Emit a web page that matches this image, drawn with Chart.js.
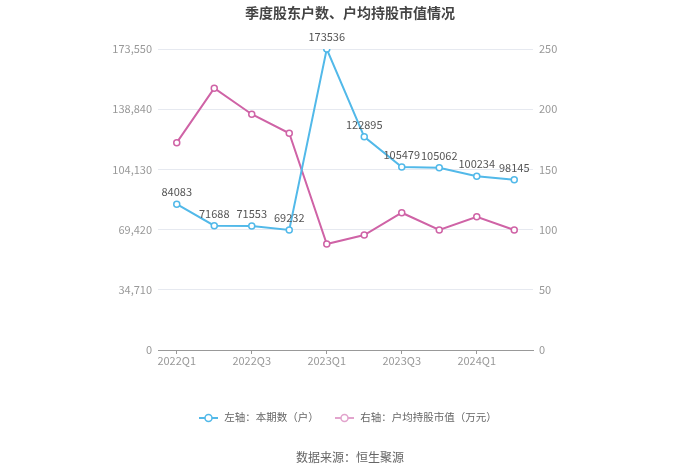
<!DOCTYPE html>
<html>
<head>
<meta charset="utf-8">
<script src="https://cdn.jsdelivr.net/npm/chart.js@4/dist/chart.umd.min.js"></script>
<style>
  body { margin: 0; background: #fff; font-family: "Noto Sans CJK SC", sans-serif; }
  #wrap { position: relative; width: 700px; height: 474px; }
  #title { position: absolute; top: 2px; left: 0; width: 700px; text-align: center;
    font-size: 14px; font-weight: bold; color: #444; }
  #legend { position: absolute; top: 409px; left: 0; width: 696px; text-align: center;
    font-size: 10.5px; color: #666; }
  #legend span.item { margin: 0 7px; }
  #legend svg { vertical-align: -2px; margin-right: 6px; }
  #source { position: absolute; top: 448px; left: 0; width: 700px; text-align: center;
    font-size: 12px; color: #666; }
</style>
</head>
<body>
<div id="wrap">
  <canvas id="chart"></canvas>
  <div id="title">季度股东户数、户均持股市值情况</div>
  <div id="legend">
    <span class="item"><svg width="19" height="10"><line x1="0" y1="5" x2="19" y2="5" stroke="#52b9e9" stroke-width="2"/><circle cx="9.5" cy="5" r="3.5" fill="#fff" stroke="#52b9e9" stroke-width="1.5"/></svg>左轴：本期数（户）</span>
    <span class="item"><svg width="19" height="10"><line x1="0" y1="5" x2="19" y2="5" stroke="#e2a4cd" stroke-width="2"/><circle cx="9.5" cy="5" r="3.5" fill="#fff" stroke="#e2a4cd" stroke-width="1.5"/></svg>右轴：户均持股市值（万元）</span>
  </div>
  <div id="source">数据来源：恒生聚源</div>
</div>
<script>
// quarters shown on the x axis
const quarters = ['2022Q1', '2022Q2', '2022Q3', '2022Q4', '2023Q1', '2023Q2', '2023Q3', '2023Q4', '2024Q1', '2024Q2'];
// left axis: shareholder count
const holders = [84083, 71688, 71553, 69232, 173536, 122895, 105479, 105062, 100234, 98145];
// right axis: avg market value per holder (10k CNY)
const avgValue = [172.2, 217.4, 195.8, 180.0, 88.0, 95.5, 114.0, 99.7, 110.7, 99.7];

const leftMax = 173550;
const leftStep = 34710;
const rightMax = 250;
const rightStep = 50;

const blue = '#52b9e9';
const pink = '#cf63a6';

// draws the count above each point of the first series
const valueLabels = {
  id: 'valueLabels',
  afterDatasetsDraw(chart) {
    const ctx = chart.ctx;
    const meta = chart.getDatasetMeta(0);
    ctx.save();
    ctx.font = '11px "Noto Sans CJK SC", sans-serif';
    ctx.fillStyle = '#555';
    ctx.textAlign = 'center';
    ctx.textBaseline = 'middle';
    meta.data.forEach((pt, i) => {
      ctx.fillText(String(holders[i]), pt.x, pt.y - 12);
    });
    ctx.restore();
  }
};

new Chart(document.getElementById('chart'), {
  type: 'line',
  data: {
    labels: quarters,
    datasets: [{
      label: '左轴：本期数（户）',
      data: holders,
      yAxisID: 'y',
      borderColor: blue,
      backgroundColor: '#fff',
      borderWidth: 2,
      pointRadius: 3,
      pointBorderWidth: 1.5,
      pointBackgroundColor: '#fff',
      tension: 0
    }, {
      label: '右轴：户均持股市值（万元）',
      data: avgValue,
      yAxisID: 'y1',
      borderColor: pink,
      backgroundColor: '#fff',
      borderWidth: 2,
      pointRadius: 3,
      pointBorderWidth: 1.5,
      pointBackgroundColor: '#fff',
      tension: 0
    }]
  },
  options: {
    responsive: true,
    maintainAspectRatio: false,
    animation: false,
    layout: { padding: { top: 49, left: 0, right: 0, bottom: 0 } },
    plugins: {
      legend: { display: false },
      tooltip: { enabled: false }
    },
    scales: {
      x: {
        offset: true,
        afterFit: (axis) => { axis.height = 124; },
        grid: {
          display: true,
          drawOnChartArea: false,
          offset: false,
          tickLength: 4,
          // tick marks only under the labelled quarters
          tickColor: (c) => (c.index % 2 === 0 ? '#999' : 'rgba(0,0,0,0)')
        },
        border: { color: '#999' },
        ticks: {
          color: '#999',
          font: { size: 11, family: '"Noto Sans CJK SC", sans-serif' },
          padding: 0,
          maxRotation: 0,
          autoSkip: false,
          callback: (v, i) => (i % 2 === 0 ? quarters[i] : '')
        }
      },
      y: {
        position: 'left',
        min: 0,
        max: leftMax,
        afterFit: (axis) => { axis.width = 158; },
        grid: { color: '#e6e9f0', drawTicks: false },
        border: { display: false },
        ticks: {
          stepSize: leftStep,
          padding: 6,
          color: '#999',
          font: { size: 11, family: '"Noto Sans CJK SC", sans-serif' },
          callback: (v) => v.toLocaleString('en-US')
        }
      },
      y1: {
        position: 'right',
        min: 0,
        max: rightMax,
        afterFit: (axis) => { axis.width = 167; },
        grid: { drawOnChartArea: false, drawTicks: false },
        border: { display: false },
        ticks: {
          stepSize: rightStep,
          padding: 6,
          color: '#999',
          font: { size: 11, family: '"Noto Sans CJK SC", sans-serif' }
        }
      }
    }
  },
  plugins: [valueLabels]
});
</script>
</body>
</html>
